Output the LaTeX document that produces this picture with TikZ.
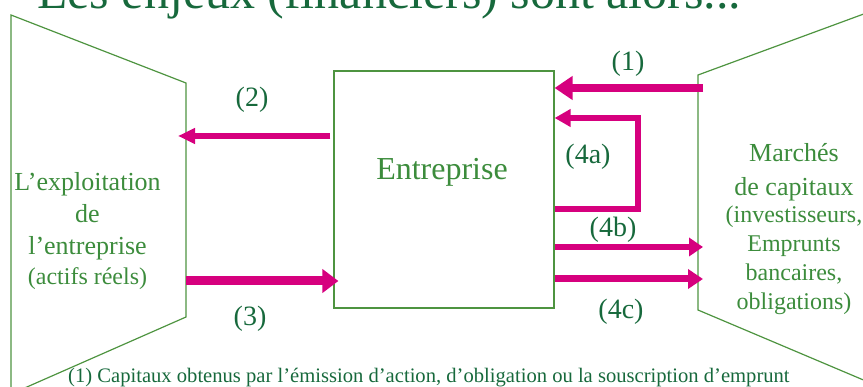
\documentclass[tikz,border=0pt]{standalone}
\usepackage{fontspec}
\setmainfont{Liberation Serif}
\usetikzlibrary{arrows.meta,calc}

\definecolor{flowpink}{HTML}{D6007E}
\definecolor{edgegreen}{HTML}{4E9440}
\definecolor{namegreen}{HTML}{3C8C3C}
\definecolor{darkgreen}{HTML}{17693C}

\tikzset{
  outline/.style={draw=edgegreen, line width=1.2pt, line join=miter},
  flow/.style={draw=flowpink, line cap=butt, line join=miter},
  tip/.style 2 args={-{Triangle[length=#1,width=#2]}},
  numlabel/.style={text=darkgreen, font=\fontsize{28}{32}\selectfont, anchor=base, inner sep=0pt},
  sidetext/.style={text=namegreen, align=center, anchor=base, inner sep=0pt},
}

\begin{document}
\begin{tikzpicture}[x=1pt,y=-1pt]
  \useasboundingbox (0,0) rectangle (863,387);
  \clip (0,0) rectangle (863,387);

  % heading
  \node[text=darkgreen, font=\fontsize{50}{60}\selectfont, anchor=base west, inner sep=0pt]
    (title) at (37,9) {Les enjeux (financiers) sont alors...};

  % operations side (left) and capital markets side (right)
  \draw[outline] (11,15) -- (186,83) -- (186,317) -- (11,394) -- cycle;
  \draw[outline] (880,8) -- (698,75) -- (698,310) -- (880,387);

  % the firm
  \node[outline, minimum width=220pt, minimum height=237pt, inner sep=0pt] (ent) at (444,189.5) {};
  \node[text=namegreen, font=\fontsize{32}{38}\selectfont, anchor=base, inner sep=0pt]
    (entname) at (442,180) {Entreprise};

  % multi-line texts: the base anchor sits on the last line
  \node[sidetext, font=\fontsize{26}{32}\selectfont] (explo) at (87.5,285)
    {L’exploitation\\de\\l’entreprise\\[-2pt]{\fontsize{24}{30}\selectfont(actifs réels)}};

  \node[sidetext, font=\fontsize{26}{29}\selectfont] (marches) at (794,309.3)
    {Marchés\\[5pt]de capitaux\\[-2pt]{\fontsize{24}{29}\selectfont(investisseurs,}\\
     {\fontsize{24}{29}\selectfont Emprunts}\\{\fontsize{24}{29}\selectfont bancaires,}\\
     {\fontsize{24}{29}\selectfont obligations)}};

  % anchor points on the two side shapes
  \coordinate (src1) at (703,88);
  \coordinate (tip2) at (178,136);
  \coordinate (src3) at (186,281);
  \coordinate (low4a) at (638,209);
  \coordinate (high4a) at (638,118);
  \coordinate (dst4b) at (703,247);
  \coordinate (dst4c) at (703,279);

  % flows
  \draw[flow, line width=8pt, tip={18pt}{23pt}] (src1) -- (src1 -| ent.east);
  \draw[flow, line width=5.7pt, tip={17pt}{15pt}] ($(tip2 -| ent.west)+(-3,0)$) -- (tip2);
  \draw[flow, line width=9pt, tip={16pt}{23pt}] (src3) -- ($(src3 -| ent.west)+(5,0)$);
  \draw[flow, line width=5.5pt, tip={16pt}{17pt}]
    (low4a -| ent.east) -- (low4a) -- (high4a) -- (high4a -| ent.east);
  \draw[flow, line width=6.5pt, tip={14pt}{18pt}] (dst4b -| ent.east) -- (dst4b);
  \draw[flow, line width=7pt, tip={15pt}{19pt}] (dst4c -| ent.east) -- (dst4c);

  % flow labels
  \node[numlabel] (l1) at (628,71) {(1)};
  \node[numlabel] (l2) at (252,107) {(2)};
  \node[numlabel] (l3) at (250,326) {(3)};
  \node[numlabel] (l4a) at (588,164) {(4a)};
  \node[numlabel] (l4b) at (613,237) {(4b)};
  \node[numlabel] (l4c) at (621,319) {(4c)};

  % footnote
  \node[text=darkgreen, font=\fontsize{20.6}{25}\selectfont, anchor=base west, inner sep=0pt]
    (note) at (68,383) {(1) Capitaux obtenus par l’émission d’action, d’obligation ou la souscription d’emprunt};
\end{tikzpicture}
\end{document}
